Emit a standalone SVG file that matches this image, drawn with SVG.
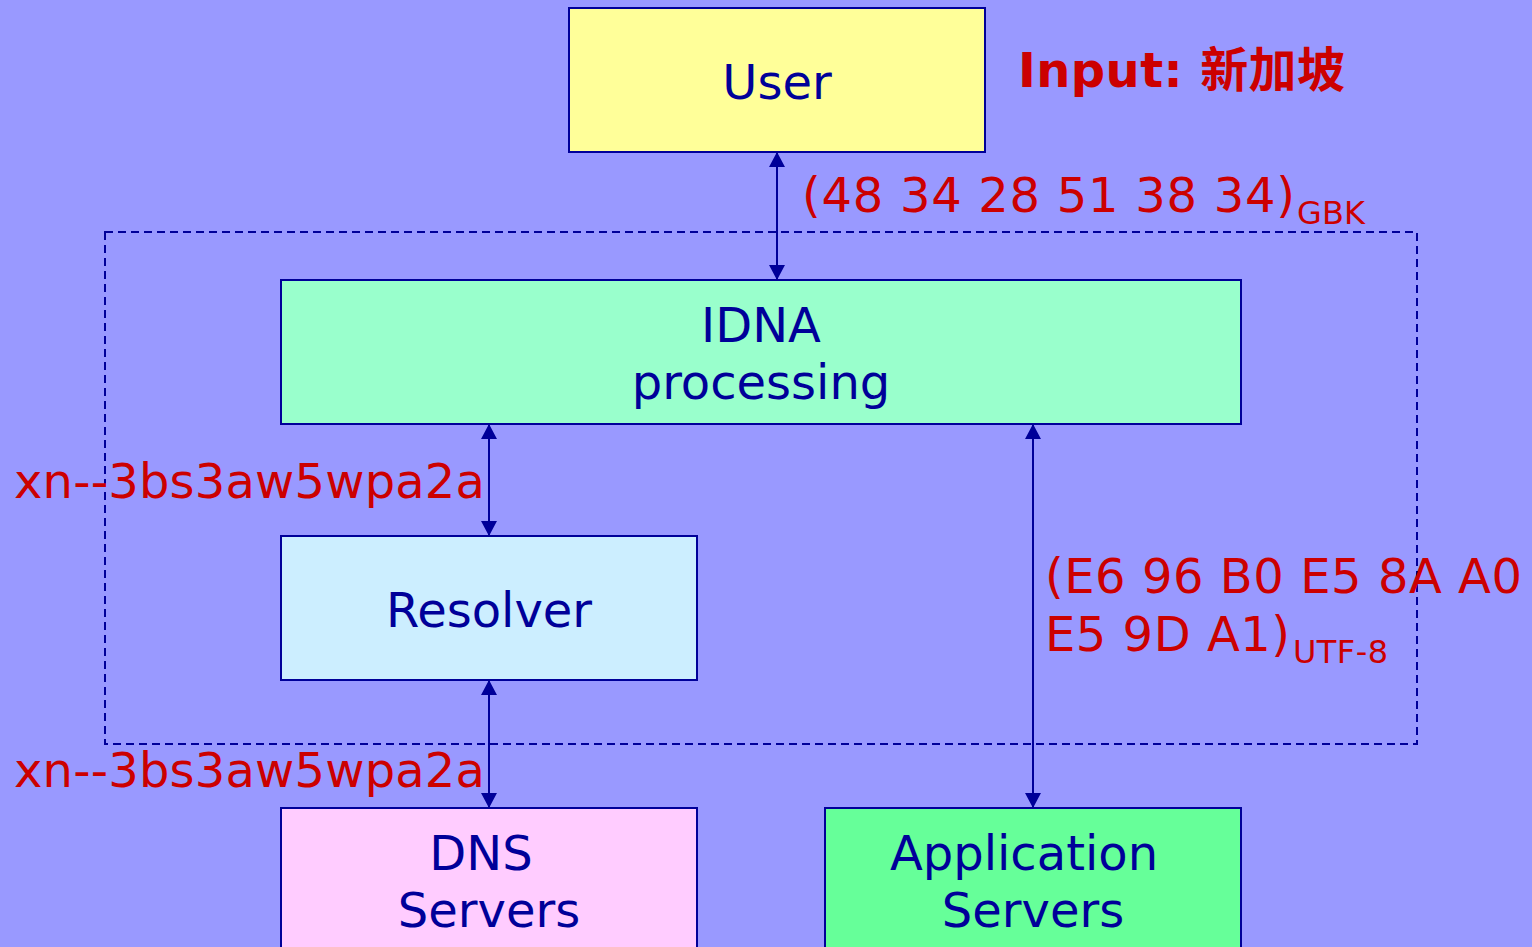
<svg xmlns="http://www.w3.org/2000/svg" width="1532" height="947" viewBox="0 0 1532 947">
<defs>
<style>
.box{stroke:#000099;stroke-width:2}
.lbl{font-family:"DejaVu Sans","Liberation Sans",sans-serif;font-size:48px;fill:#000099;text-anchor:middle}
.red{font-family:"DejaVu Sans","Liberation Sans","Noto Sans CJK SC",sans-serif;font-size:48px;fill:#CC0000}
.sub{font-size:32px}
.conn{stroke:#000099;stroke-width:2;fill:none;marker-start:url(#ah);marker-end:url(#ah)}
</style>
<marker id="ah" viewBox="0 0 15 16" refX="14" refY="8" markerWidth="15" markerHeight="16" markerUnits="userSpaceOnUse" orient="auto-start-reverse">
<path d="M0,0 L15,8 L0,16 Z" fill="#000099"/>
</marker>
</defs>
<rect width="1532" height="947" fill="#9999FF"/>
<rect id="container" x="105" y="232" width="1312" height="512" fill="none" stroke="#000099" stroke-width="2" stroke-dasharray="8,5"/>
<g id="user"><rect class="box" x="569" y="8" width="416" height="144" fill="#FFFF99"/><text class="lbl" x="777" y="99">User</text></g>
<g id="idna"><rect class="box" x="281" y="280" width="960" height="144" fill="#99FFCC"/><text class="lbl" x="761" y="342">IDNA</text><text class="lbl" x="761" y="399">processing</text></g>
<g id="resolver"><rect class="box" x="281" y="536" width="416" height="144" fill="#CCEEFF"/><text class="lbl" x="489" y="627">Resolver</text></g>
<g id="dns"><rect class="box" x="281" y="808" width="416" height="160" fill="#FFCCFF"/><text class="lbl" x="481" y="870">DNS</text><text class="lbl" x="489" y="927">Servers</text></g>
<g id="app"><rect class="box" x="825" y="808" width="416" height="160" fill="#66FF99"/><text class="lbl" x="1024" y="870">Application</text><text class="lbl" x="1033" y="927">Servers</text></g>
<g id="connectors">
<line class="conn" x1="777" y1="153" x2="777" y2="279"/>
<line class="conn" x1="489" y1="425" x2="489" y2="535"/>
<line class="conn" x1="489" y1="681" x2="489" y2="807"/>
<line class="conn" x1="1033" y1="425" x2="1033" y2="807"/>
</g>
<g id="labels">
<text class="red" x="1018" y="87" font-weight="bold" textLength="327" lengthAdjust="spacing">Input: 新加坡</text>
<text class="red" x="802" y="212" textLength="493" lengthAdjust="spacing">(48 34 28 51 38 34)</text>
<text class="red sub" x="1297" y="224" textLength="68" lengthAdjust="spacing">GBK</text>
<text class="red" x="14" y="498" textLength="471" lengthAdjust="spacing">xn--3bs3aw5wpa2a</text>
<text class="red" x="14" y="787" textLength="471" lengthAdjust="spacing">xn--3bs3aw5wpa2a</text>
<text class="red" x="1045" y="593" textLength="477" lengthAdjust="spacing">(E6 96 B0 E5 8A A0</text>
<text class="red" x="1045" y="651" textLength="245" lengthAdjust="spacing">E5 9D A1)</text>
<text class="red sub" x="1293" y="663" textLength="95" lengthAdjust="spacing">UTF-8</text>
</g>
</svg>
